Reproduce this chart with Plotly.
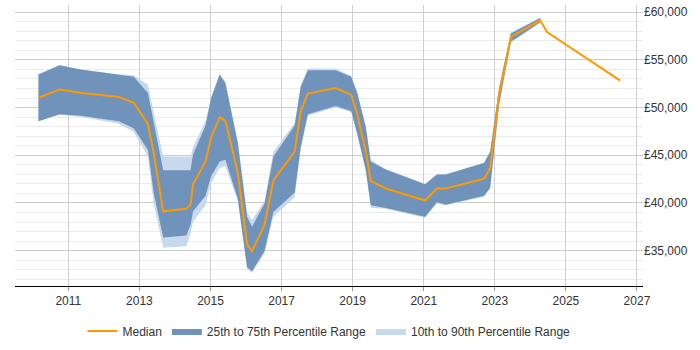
import plotly.graph_objects as go

years = [2010.16, 2010.75, 2011.34, 2012.42, 2012.84, 2013.24, 2013.40, 2013.67, 2014.32, 2014.44,
         2014.51, 2014.86, 2015.02, 2015.26, 2015.42, 2015.77, 2016.03, 2016.17, 2016.52, 2016.77,
         2017.37, 2017.54, 2017.74, 2018.52, 2018.96, 2019.13, 2019.37, 2019.51, 2019.93, 2021.04,
         2021.37, 2021.62, 2022.70, 2022.87, 2023.12, 2023.19, 2023.36, 2023.45, 2024.28, 2024.47, 2026.53]

median = [51000, 51900, 51550, 51120, 50500, 48280, 45300, 39130, 39400, 39820,
          41970, 44350, 46920, 48970, 48630, 43160, 35650, 34960, 37700, 42380,
          45380, 49650, 51460, 52040, 51350, 49300, 45380, 42310, 41520, 40260,
          41520, 41520, 42540, 43670, 51350, 52550, 55630, 57400, 59140, 57910, 52830]

p75 = [53470, 54430, 54000, 53450, 53240, 51530, 48500, 43430, 43430, 43430,
       45070, 48110, 51010, 53470, 52550, 46230, 38550, 37520, 39920, 44870,
       48110, 52210, 53920, 53920, 53240, 51530, 47940, 44350, 43500, 41970,
       42990, 42990, 44180, 45380, 52040, 53300, 56200, 57750, 59380]

p25 = [48560, 49300, 49150, 48560, 47840, 45550, 41110, 36390, 36600, 37700,
       39130, 40770, 42820, 44350, 44520, 40430, 33260, 32850, 34960, 39060,
       41110, 45890, 49300, 50160, 49650, 47250, 43500, 39750, 39470, 38550,
       40080, 39810, 40770, 41620, 50330, 51800, 55000, 56890, 58940]

p90 = [53500, 54450, 54000, 53500, 53400, 52380, 49500, 44870, 44870, 44870,
       45890, 48600, 51100, 53500, 52700, 46500, 39060, 38210, 40200, 45380,
       48400, 52300, 54090, 54090, 53300, 51600, 48100, 44500, 43550, 42000,
       43000, 43000, 44250, 45450, 52100, 53400, 56300, 57850, 59450]

p10 = [48560, 49250, 49050, 48300, 47430, 44870, 40000, 35310, 35470, 36840,
       38040, 39750, 42130, 43670, 43840, 40200, 33050, 32700, 34700, 38550,
       40600, 45600, 49150, 50000, 49500, 47100, 43300, 39500, 39400, 38450,
       39950, 39750, 40650, 41500, 50250, 51700, 54900, 56800, 58900]

band_years = years[:len(p75)]

DARK = "#7093bb"
LIGHT = "#c6d9ed"
ORANGE = "#ff9900"

fig = go.Figure()
fig.add_trace(go.Scatter(x=band_years, y=p10, mode="lines", line=dict(width=0, color=LIGHT),
                         showlegend=False, hoverinfo="skip"))
fig.add_trace(go.Scatter(x=band_years, y=p90, mode="lines", line=dict(width=0, color=LIGHT),
                         fill="tonexty", fillcolor=LIGHT, name="10th to 90th Percentile Range",
                         legendrank=3))
fig.add_trace(go.Scatter(x=band_years, y=p25, mode="lines", line=dict(width=0, color=DARK),
                         showlegend=False, hoverinfo="skip"))
fig.add_trace(go.Scatter(x=band_years, y=p75, mode="lines", line=dict(width=0, color=DARK),
                         fill="tonexty", fillcolor=DARK, name="25th to 75th Percentile Range",
                         legendrank=2))
fig.add_trace(go.Scatter(x=years, y=median, mode="lines", line=dict(width=2, color=ORANGE),
                         name="Median", legendrank=1))

fig.update_layout(
    width=700, height=350,
    margin=dict(l=15, r=57, t=5, b=58),
    paper_bgcolor="white", plot_bgcolor="white",
    font=dict(family="Liberation Sans, Arial, sans-serif", size=12, color="#333333"),
    showlegend=True,
    legend=dict(orientation="h", x=0.5, xanchor="center", y=-0.16, yanchor="middle",
                font=dict(size=12, color="#333333"), itemwidth=30, traceorder="normal"),
    xaxis=dict(range=[2009.5, 2027.17], tick0=2011, dtick=2, showgrid=True,
               gridcolor="#d0d0d0", gridwidth=1, showline=True, linecolor="#000000",
               linewidth=1, ticks="outside", ticklen=4, tickcolor="#999999",
               zeroline=False, tickfont=dict(size=12, color="#333333")),
    yaxis=dict(range=[31300, 60750], side="right", tick0=35000, dtick=5000,
               tickprefix="£", tickformat=",.0f", showgrid=True, gridcolor="#cccccc",
               gridwidth=1, zeroline=False, showline=False, ticks="",
               minor=dict(dtick=1000, tick0=31000, showgrid=True, gridcolor="#ebebeb", gridwidth=1),
               tickfont=dict(size=12, color="#333333")),
)

fig.write_html("out.html")
